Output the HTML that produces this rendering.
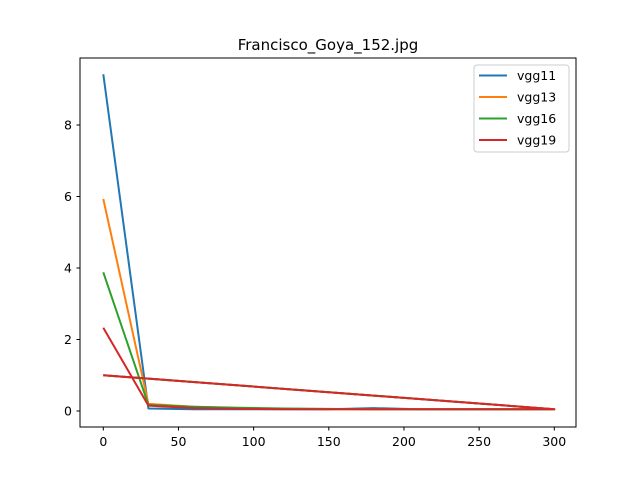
<!DOCTYPE html>
<html><head><meta charset="utf-8"><style>body{margin:0;background:#fff}svg{display:block;font-family:"DejaVu Sans","Liberation Sans",sans-serif}</style></head>
<body>
<svg id="chart" width="640" height="480">
<rect x="0" y="0" width="640" height="480" fill="#fff"/>
<text x="328" y="50" text-anchor="middle" font-size="15">Francisco_Goya_152.jpg</text>
<g id="plot"></g>
<rect x="80" y="58" width="496" height="369" fill="none" stroke="#000" stroke-width="1"/>
<g id="legend"></g>
</svg>
<script>
const xs = [0,30,60,90,120,150,180,210,240,270,300];
const vgg11 = [9.42,0.07,0.05,0.05,0.05,0.05,0.08,0.05,0.05,0.05,0.05];
const vgg13 = [5.93,0.2,0.12,0.08,0.06,0.05,0.05,0.05,0.05,0.05,0.05];
const vgg16 = [3.88,0.17,0.12,0.09,0.07,0.06,0.05,0.05,0.05,0.05,0.05];
const vgg19 = [2.33,0.15,0.08,0.06,0.05,0.05,0.05,0.05,0.05,0.05,0.05];
const extraX = [300,0];
const extraY = [0.05,1.0];
const names = ["vgg11","vgg13","vgg16","vgg19"];
const colors = ["#1f77b4","#ff7f0e","#2ca02c","#d62728"];
const xTicks = [0,50,100,150,200,250,300];
const yTicks = [0,2,4,6,8];
const NS="http://www.w3.org/2000/svg";
const sx=v=>103.3+v*1.5033;
const sy=v=>411-v*35.75;
const plot=document.getElementById('plot');
const svg=document.getElementById('chart');
function mk(t,a){const e=document.createElementNS(NS,t);for(const k in a)e.setAttribute(k,a[k]);return e;}
xTicks.forEach(t=>{
  const l=mk('line',{x1:sx(t),x2:sx(t),y1:427,y2:430.5,stroke:'#000'});
  
  
  svg.appendChild(l);
  const tx=mk('text',{x:sx(t),y:446,'text-anchor':'middle','font-size':'12.5'});
  tx.textContent=t;
  
  
  svg.appendChild(tx);
});
yTicks.forEach(t=>{
  const l=mk('line',{x1:76.5,x2:80,y1:sy(t),y2:sy(t),stroke:'#000'});
  
  
  svg.appendChild(l);
  const tx=mk('text',{x:72,y:sy(t)+4.5,'text-anchor':'end','font-size':'12.5'});
  tx.textContent=t;
  
  
  svg.appendChild(tx);
});
[vgg11,vgg13,vgg16,vgg19].forEach((s,i)=>{
  let pts=xs.map((x,j)=>sx(x)+','+sy(s[j]));
  extraX.forEach((x,j)=>pts.push(sx(x)+','+sy(extraY[j])));
  const p=mk('polyline',{points:pts.join(' '),fill:'none',stroke:colors[i],'stroke-width':2,'stroke-linejoin':'round'});
  
  
  plot.appendChild(p);
});
const lg=document.getElementById('legend');
const box=mk('rect',{x:474,y:65,width:95,height:87,rx:3,fill:'#fff','fill-opacity':0.8,stroke:'#ccc'});
lg.appendChild(box);
names.forEach((n,i)=>{
  const y=75.5+i*21.5;
  const l=mk('line',{x1:479,x2:507,y1:y,y2:y,stroke:colors[i],'stroke-width':2});
  
  
  lg.appendChild(l);
  const t=mk('text',{x:517,y:y+4.5,'font-size':'12.5'});
  t.textContent=n;
  
  
  lg.appendChild(t);
});
</script>
</body></html>
